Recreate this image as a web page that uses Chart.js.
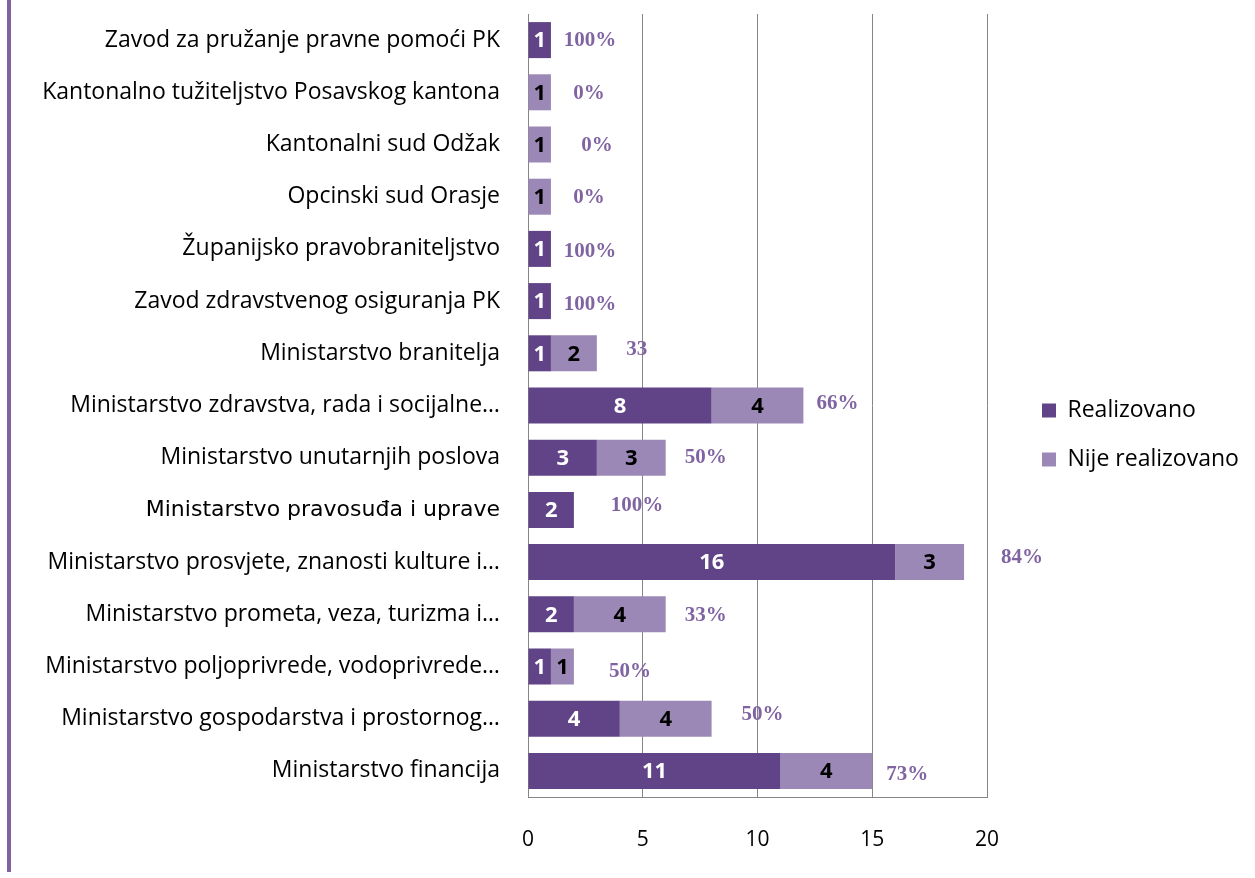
<!DOCTYPE html>
<html lang="hr">
<head>
<meta charset="UTF-8">
<title>Realizacija po institucijama</title>
<script src="https://cdn.jsdelivr.net/npm/chart.js"></script>
<style>
    html, body { margin: 0; padding: 0; background: #fff; }
    canvas { display: block; }
</style>
</head>
<body>
<canvas id="chart" width="1255" height="878"></canvas>
<script>
    const institutions = [
        'Zavod za pružanje pravne pomoći PK',
        'Kantonalno tužiteljstvo Posavskog kantona',
        'Kantonalni sud Odžak',
        'Opcinski sud Orasje',
        'Županijsko pravobraniteljstvo',
        'Zavod zdravstvenog osiguranja PK',
        'Ministarstvo branitelja',
        'Ministarstvo zdravstva, rada i socijalne…',
        'Ministarstvo unutarnjih poslova',
        'Ministarstvo pravosuđa i uprave',
        'Ministarstvo prosvjete, znanosti kulture i…',
        'Ministarstvo prometa, veza, turizma i…',
        'Ministarstvo poljoprivrede, vodoprivrede…',
        'Ministarstvo gospodarstva i prostornog…',
        'Ministarstvo financija'
    ];
    const realizovano     = [1, 0, 0, 0, 1, 1, 1, 8, 3, 2, 16, 2, 1, 4, 11];
    const nijeRealizovano = [0, 1, 1, 1, 0, 0, 2, 4, 3, 0, 3, 4, 1, 4, 4];
    const percentLabels   = ['100%', '0%', '0%', '0%', '100%', '100%', '33', '66%', '50%', '100%', '84%', '33%', '50%', '50%', '73%'];
    const xTicks = [0, 5, 10, 15, 20];

    // where the percent text sits relative to the end of each bar (px)
    const pctShiftX = [39, 38, 46, 38, 39, 39, 40, 34, 40, 63, 58, 40, 56, 51, 35];
    const pctShiftY = [0, 1, 1, 1, 3, 3, -4, -2, 0, -4, -5, 1, 5, -4, 4];

    const DARK = '#614487';
    const LIGHT = '#9c88b6';
    const GRID = '#868686';
    const FONT = 'Open Sans';

    const frame = {
        id: 'frame',
        beforeLayout(chart) {
            const lg = chart.legend;
            if (lg && !lg._fixedFit) {
                const fit = lg.fit;
                lg.fit = function () {
                    fit.call(this);
                    this.width = 268;
                };
                lg._fixedFit = true;
            }
        },
        afterLayout(chart) {
            chart.legend.left += 29;
            chart.legend.top -= 11;
            chart.legend.bottom -= 11;
        },
        beforeDraw(chart) {
            const ctx = chart.ctx;
            ctx.save();
            ctx.fillStyle = '#8064a2';
            ctx.fillRect(7, 0, 4, 872);
            ctx.restore();
        }
    };

    const barLabels = {
        id: 'barLabels',
        afterDatasetsDraw(chart) {
            const ctx = chart.ctx;
            const xScale = chart.scales.x;
            const yScale = chart.scales.y;
            ctx.save();
            ctx.textAlign = 'center';
            ctx.textBaseline = 'middle';
            chart.data.datasets.forEach((ds, di) => {
                const meta = chart.getDatasetMeta(di);
                meta.data.forEach((bar, i) => {
                    const v = ds.data[i];
                    if (!v) return;
                    ctx.fillStyle = di === 0 ? '#ffffff' : '#000000';
                    ctx.font = 'bold 22px "' + FONT + '"';
                    ctx.fillText(String(v), (bar.x + bar.base) / 2, bar.y + 1);
                });
            });
            ctx.font = 'bold 21px "Liberation Serif"';
            ctx.fillStyle = '#8064a2';
            percentLabels.forEach((txt, i) => {
                const total = realizovano[i] + nijeRealizovano[i];
                const x = xScale.getPixelForValue(total) + pctShiftX[i];
                const y = yScale.getPixelForValue(i) + pctShiftY[i];
                ctx.fillText(txt, x, y);
            });
            ctx.restore();
        }
    };

    new Chart(document.getElementById('chart'), {
        type: 'bar',
        data: {
            labels: institutions,
            datasets: [
                { label: 'Realizovano', data: realizovano, backgroundColor: DARK },
                { label: 'Nije realizovano', data: nijeRealizovano, backgroundColor: LIGHT }
            ]
        },
        options: {
            indexAxis: 'y',
            responsive: false,
            animation: false,
            barPercentage: 0.69,
            categoryPercentage: 1,
            layout: { padding: { top: 14, right: 0, bottom: 0, left: 0 } },
            plugins: {
                tooltip: { enabled: false },
                legend: {
                    position: 'right',
                    align: 'center',
                    labels: {
                        boxWidth: 14,
                        boxHeight: 14,
                        padding: 26,
                        color: '#000',
                        font: { family: FONT, size: 23 }
                    }
                }
            },
            scales: {
                x: {
                    stacked: true,
                    min: 0,
                    max: 20,
                    afterBuildTicks: (scale) => { scale.ticks = xTicks.map(v => ({ value: v })); },
                    afterFit: (scale) => { scale.height = 81; },
                    grid: { color: GRID, drawTicks: false },
                    border: { color: GRID, width: 1 },
                    ticks: {
                        padding: 30,
                        color: '#000',
                        font: { family: FONT, size: 21 }
                    }
                },
                y: {
                    stacked: true,
                    afterFit: (scale) => {
                        scale.width = 528;
                        scale.paddingTop = 0;
                        scale.paddingBottom = 0;
                    },
                    grid: { display: false, drawTicks: false },
                    border: { color: GRID, width: 1 },
                    ticks: {
                        padding: 28,
                        color: '#000',
                        autoSkip: false,
                        font: (c) => c.index === 9
                            ? { family: 'DejaVu Sans', size: 22 }
                            : { family: FONT, size: 23 }
                    }
                }
            }
        },
        plugins: [frame, barLabels]
    });
</script>
</body>
</html>
